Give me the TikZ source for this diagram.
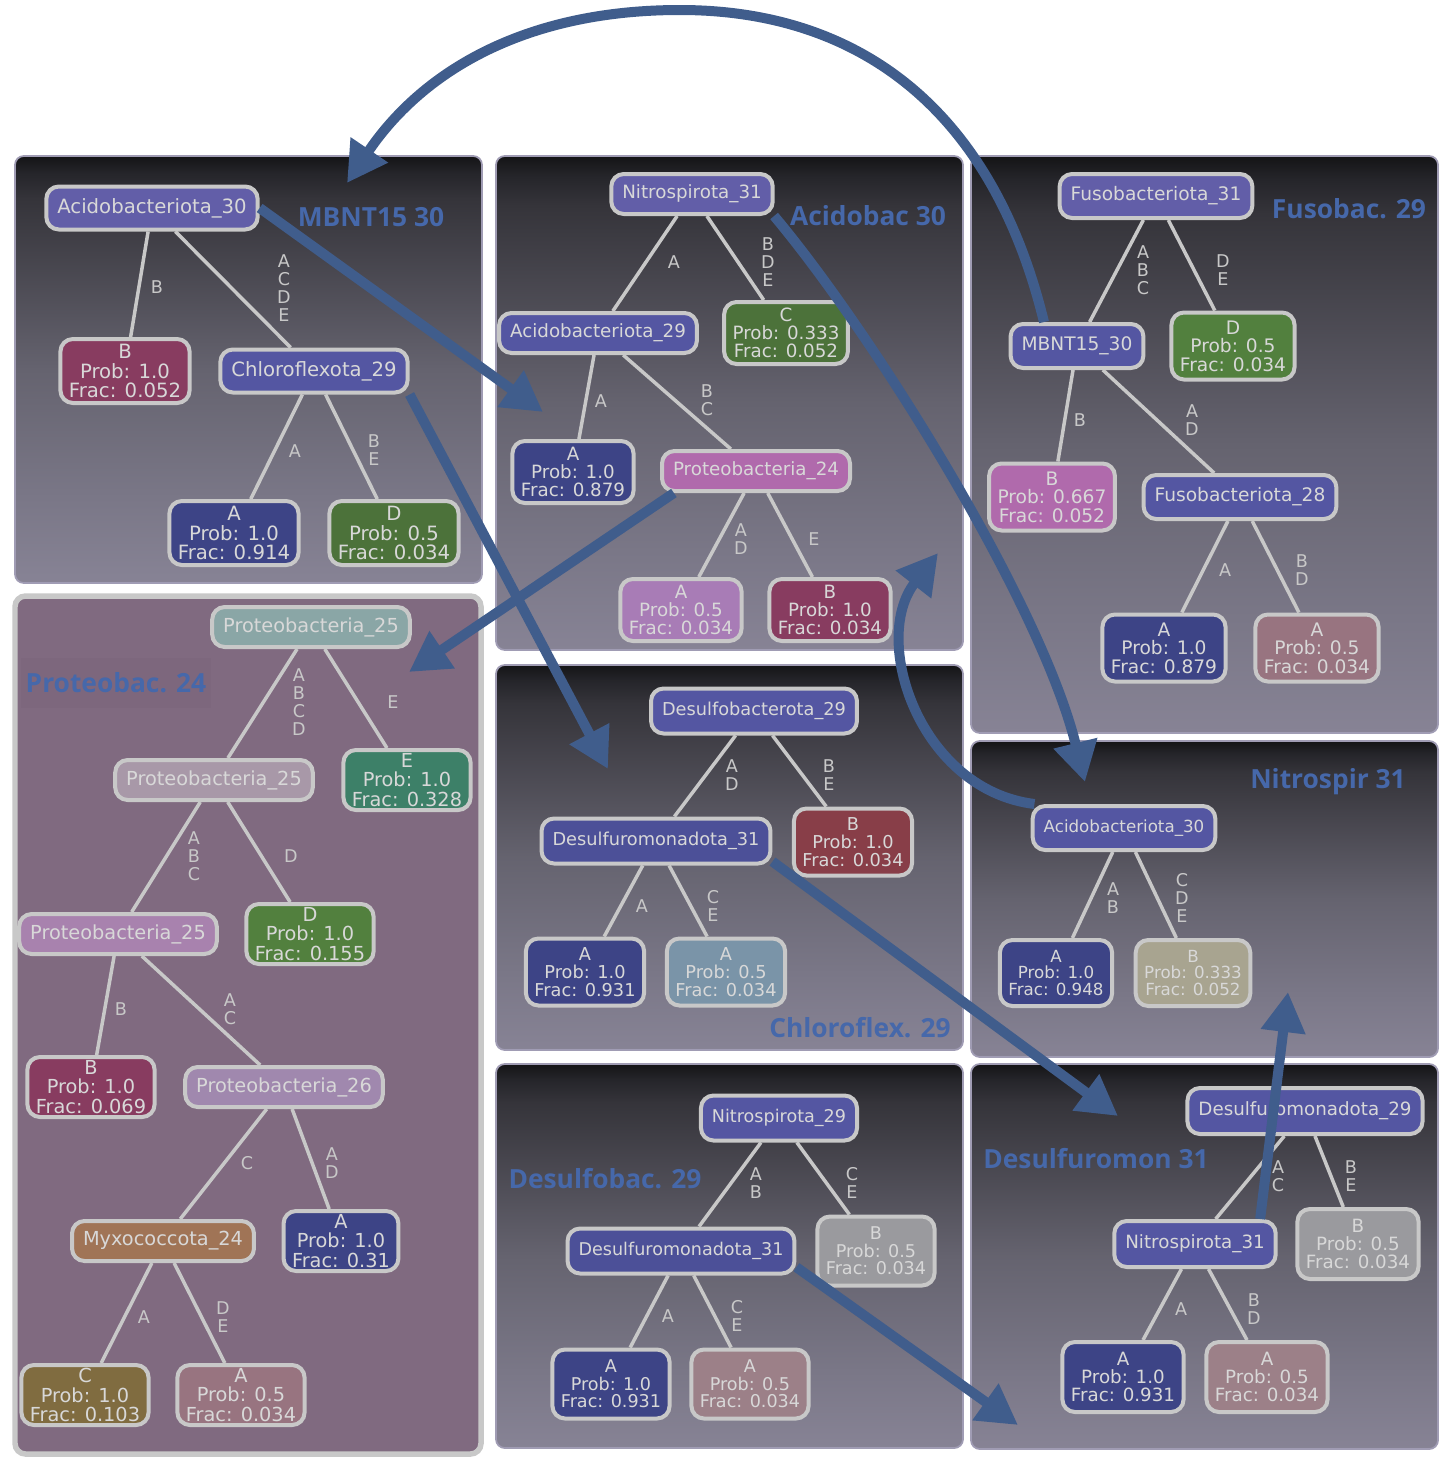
\documentclass[tikz,border=0pt]{standalone}
\usepackage{fontspec}
\setsansfont{DejaVu Sans}
\newfontfamily\titlefont{Open Sans}
\usetikzlibrary{arrows.meta, positioning}

\definecolor{rimgray}{RGB}{200,200,200}
\definecolor{inktext}{RGB}{216,216,216}
\definecolor{panelrim}{RGB}{160,156,180}
\definecolor{paneltop}{RGB}{20,20,22}
\definecolor{panelhigh}{RGB}{37,37,42}
\definecolor{panelnear}{RGB}{53,52,58}
\definecolor{panelmid}{RGB}{101,99,111}
\definecolor{panellow}{RGB}{122,119,135}
\definecolor{panelbot}{RGB}{135,131,149}
\definecolor{protbg}{RGB}{128,106,128}
\definecolor{protshade}{RGB}{125,103,125}
\definecolor{flowblue}{RGB}{64,93,140}
\definecolor{titleblue}{RGB}{70,104,170}
% node fills
\definecolor{violet1}{RGB}{98,94,168}
\definecolor{violet2}{RGB}{84,86,162}
\definecolor{violet3}{RGB}{76,80,152}
\definecolor{navy2}{RGB}{61,68,134}
\definecolor{wine}{RGB}{136,60,96}
\definecolor{wine2}{RGB}{136,62,72}
\definecolor{moss}{RGB}{76,114,58}
\definecolor{moss2}{RGB}{82,128,62}
\definecolor{orchid}{RGB}{176,106,172}
\definecolor{lilac}{RGB}{168,124,182}
\definecolor{mauve}{RGB}{152,116,128}
\definecolor{mauve2}{RGB}{156,128,136}
\definecolor{sage}{RGB}{138,166,166}
\definecolor{heather}{RGB}{168,152,168}
\definecolor{plum}{RGB}{168,130,174}
\definecolor{plum2}{RGB}{160,136,174}
\definecolor{clay}{RGB}{160,116,86}
\definecolor{jade}{RGB}{61,128,104}
\definecolor{olive2}{RGB}{128,108,64}
\definecolor{steel}{RGB}{122,148,168}
\definecolor{khaki}{RGB}{168,164,144}
\definecolor{ash}{RGB}{154,154,158}

\pgfdeclareverticalshading{panelfade}{100bp}{color(0bp)=(panelbot); color(25bp)=(panelbot);
  color(35bp)=(panellow); color(50bp)=(panelmid); color(70bp)=(panelnear);
  color(73bp)=(panelhigh); color(75bp)=(paneltop); color(100bp)=(paneltop)}

\tikzset{
    panel/.style={draw=panelrim, line width=1pt, rounded corners=5pt, shade, shading=panelfade}, % dark to light backdrop
    protpanel/.style={draw=rimgray, line width=0.11cm, rounded corners=6pt, fill=protbg},
    taxon/.style={draw=rimgray, line width=0.08cm, rounded corners=0.25cm, text=inktext, inner xsep=0.22cm, inner ysep=0pt},
    leafbox/.style={taxon, align=center, inner xsep=0.17cm}, % leaves carry three lines
    branch/.style={draw=rimgray, line width=0.07cm},
    lab/.style={text=rimgray, font=\sffamily\fontsize{10pt}{10.4pt}\selectfont, align=center, inner sep=0pt},
    paneltitle/.style={text=titleblue, font=\titlefont\bfseries\fontsize{15pt}{15pt}\selectfont, inner sep=0pt},
    flow/.style={draw=flowblue, line width=0.2cm, -{Triangle[length=0.8cm, width=0.85cm]}}, % big blue links
    tree/.style n args={3}{every node/.append style={font=\sffamily\fontsize{#1}{#1}\selectfont},
        taxon/.append style={minimum height=#2}, leafbox/.append style={minimum height=#3}},
}

\begin{document}
\begin{tikzpicture}[x=0.02cm, y=-0.02cm]
    \useasboundingbox (0,0) rectangle (1453,1471);

    % backdrops
    \draw[panel] (15,156) rectangle (482,583);
    \draw[panel] (496,156) rectangle (963,650);
    \draw[panel] (971,156) rectangle (1438,733);
    \draw[protpanel] (15,596) rectangle (481,1454);
    \draw[panel] (496,665) rectangle (963,1050);
    \draw[panel] (971,741) rectangle (1438,1057);
    \draw[panel] (496,1064) rectangle (963,1448);
    \draw[panel] (971,1064) rectangle (1438,1449);

    % MBNT15 30
    \begin{scope}[tree={11.2pt}{0.86cm}{1.28cm}]
        \node[taxon, fill=violet1] (p1root) at (152,208) {Acidobacteriota\_30};
        \node[leafbox, fill=wine] (p1b) at (125,371) {B\\Prob: 1.0\\Frac: 0.052};
        \node[taxon, fill=violet2] (p1chl) at (314,371) {Chloroflexota\_29};
        \node[leafbox, fill=navy2] (p1a) at (234,533) {A\\Prob: 1.0\\Frac: 0.914};
        \node[leafbox, fill=moss] (p1d) at (394,533) {D\\Prob: 0.5\\Frac: 0.034};
        \draw[branch] (p1root) edge (p1b) edge (p1chl) (p1chl) edge (p1a) edge (p1d);
        \node[lab] (l1a) at (157,287) {B};
        \node[lab] (l1b) at (284,288) {A\\C\\D\\E};
        \node[lab] (l1c) at (295,451) {A};
        \node[lab] (l1d) at (374,450) {B\\E};
        \node[paneltitle] (t1) at (371,217) {MBNT15 30};
    \end{scope}

    % Acidobac 30
    \begin{scope}[tree={10.4pt}{0.80cm}{1.24cm}]
        \node[taxon, fill=violet1] (p2root) at (692,194) {Nitrospirota\_31};
        \node[taxon, fill=violet2] (p2aci) at (598,333) {Acidobacteriota\_29};
        \node[leafbox, fill=moss] (p2c) at (786,333) {C\\Prob: 0.333\\Frac: 0.052};
        \node[leafbox, fill=navy2] (p2a) at (573,472) {A\\Prob: 1.0\\Frac: 0.879};
        \node[taxon, fill=orchid] (p2pro) at (756,471) {Proteobacteria\_24};
        \node[leafbox, fill=lilac] (p2a2) at (681,610) {A\\Prob: 0.5\\Frac: 0.034};
        \node[leafbox, fill=wine] (p2b) at (830,610) {B\\Prob: 1.0\\Frac: 0.034};
        \draw[branch] (p2root) edge (p2aci) edge (p2c) (p2aci) edge (p2a) edge (p2pro)
            (p2pro) edge (p2a2) edge (p2b);
        \node[lab] (l2a) at (674,262) {A};
        \node[lab] (l2b) at (768,262) {B\\D\\E};
        \node[lab] (l2c) at (601,401) {A};
        \node[lab] (l2d) at (707,400) {B\\C};
        \node[lab] (l2e) at (741,539) {A\\D};
        \node[lab] (l2f) at (814,539) {E};
        \node[paneltitle] (t2) at (868,216) {Acidobac 30};
    \end{scope}

    % Fusobac. 29
    \begin{scope}[tree={10.6pt}{0.88cm}{1.34cm}]
        \node[taxon, fill=violet1] (p3root) at (1156,196) {Fusobacteriota\_31};
        \node[taxon, fill=violet2] (p3mid) at (1077,346) {MBNT15\_30};
        \node[leafbox, fill=moss2] (p3d) at (1233,346) {D\\Prob: 0.5\\Frac: 0.034};
        \node[leafbox, fill=orchid] (p3b) at (1052,497) {B\\Prob: 0.667\\Frac: 0.052};
        \node[taxon, fill=violet2] (p3fus) at (1240,497) {Fusobacteriota\_28};
        \node[leafbox, fill=navy2] (p3a) at (1164,648) {A\\Prob: 1.0\\Frac: 0.879};
        \node[leafbox, fill=mauve] (p3a2) at (1317,648) {A\\Prob: 0.5\\Frac: 0.034};
        \draw[branch] (p3root) edge (p3mid) edge (p3d) (p3mid) edge (p3b) edge (p3fus)
            (p3fus) edge (p3a) edge (p3a2);
        \node[lab] (l3a) at (1143,270) {A\\B\\C};
        \node[lab] (l3b) at (1223,270) {D\\E};
        \node[lab] (l3c) at (1080,420) {B};
        \node[lab] (l3d) at (1192,420) {A\\D};
        \node[lab] (l3e) at (1225,570) {A};
        \node[lab] (l3f) at (1302,570) {B\\D};
        \node[paneltitle] (t3) at (1349,209) {Fusobac. 29};
    \end{scope}

    % Proteobac. 24
    \begin{scope}[tree={11pt}{0.80cm}{1.20cm}]
        \node[paneltitle, fill=protshade, minimum width=3.82cm, minimum height=1cm] (t4) at (116,683) {Proteobac. 24};
        \node[taxon, fill=sage] (p4root) at (311,627) {Proteobacteria\_25};
        \node[taxon, fill=heather] (p4mid) at (214,780) {Proteobacteria\_25};
        \node[leafbox, fill=jade] (p4e) at (407,780) {E\\Prob: 1.0\\Frac: 0.328};
        \node[taxon, fill=plum] (p4low) at (118,934) {Proteobacteria\_25};
        \node[leafbox, fill=moss2] (p4d) at (310,934) {D\\Prob: 1.0\\Frac: 0.155};
        \node[leafbox, fill=wine] (p4b) at (91,1087) {B\\Prob: 1.0\\Frac: 0.069};
        \node[taxon, fill=plum2] (p4p26) at (284,1087) {Proteobacteria\_26};
        \node[taxon, fill=clay] (p4myx) at (163,1241) {Myxococcota\_24};
        \node[leafbox, fill=navy2] (p4a) at (341,1241) {A\\Prob: 1.0\\Frac: 0.31};
        \node[leafbox, fill=olive2] (p4c) at (85,1395) {C\\Prob: 1.0\\Frac: 0.103};
        \node[leafbox, fill=mauve] (p4a2) at (241,1395) {A\\Prob: 0.5\\Frac: 0.034};
        \draw[branch] (p4root) edge (p4mid) edge (p4e) (p4mid) edge (p4low) edge (p4d)
            (p4low) edge (p4b) edge (p4p26) (p4p26) edge (p4myx) edge (p4a)
            (p4myx) edge (p4c) edge (p4a2);
        \node[lab] (l4a) at (299,702) {A\\B\\C\\D};
        \node[lab] (l4b) at (393,702) {E};
        \node[lab] (l4c) at (194,856) {A\\B\\C};
        \node[lab] (l4d) at (291,856) {D};
        \node[lab] (l4e) at (121,1009) {B};
        \node[lab] (l4f) at (230,1009) {A\\C};
        \node[lab] (l4g) at (247,1163) {C};
        \node[lab] (l4h) at (332,1163) {A\\D};
        \node[lab] (l4i) at (144,1317) {A};
        \node[lab] (l4j) at (223,1317) {D\\E};
    \end{scope}

    % Chloroflex. 29
    \begin{scope}[tree={10.1pt}{0.90cm}{1.34cm}]
        \node[taxon, fill=violet2] (p5root) at (754,711) {Desulfobacterota\_29};
        \node[taxon, fill=violet3] (p5mid) at (656,841) {Desulfuromonadota\_31};
        \node[leafbox, fill=wine2] (p5b) at (853,842) {B\\Prob: 1.0\\Frac: 0.034};
        \node[leafbox, fill=navy2] (p5a) at (585,972) {A\\Prob: 1.0\\Frac: 0.931};
        \node[leafbox, fill=steel] (p5a2) at (726,972) {A\\Prob: 0.5\\Frac: 0.034};
        \draw[branch] (p5root) edge (p5mid) edge (p5b) (p5mid) edge (p5a) edge (p5a2);
        \node[lab] (l5a) at (732,775) {A\\D};
        \node[lab] (l5b) at (829,775) {B\\E};
        \node[lab] (l5c) at (642,906) {A};
        \node[lab] (l5d) at (713,906) {C\\E};
        \node[paneltitle] (t5) at (860,1028) {Chloroflex. 29};
    \end{scope}

    % Nitrospir 31
    \begin{scope}[tree={9.5pt}{0.88cm}{1.32cm}]
        \node[taxon, fill=violet2] (p6root) at (1124,828) {Acidobacteriota\_30};
        \node[leafbox, fill=navy2] (p6a) at (1056,973) {A\\Prob: 1.0\\Frac: 0.948};
        \node[leafbox, fill=khaki] (p6b) at (1193,973) {B\\Prob: 0.333\\Frac: 0.052};
        \draw[branch] (p6root) edge (p6a) edge (p6b);
        \node[lab] (l6a) at (1113,898) {A\\B};
        \node[lab] (l6b) at (1182,898) {C\\D\\E};
        \node[paneltitle] (t6) at (1328,782) {Nitrospir 31};
    \end{scope}

    % Desulfobac. 29
    \begin{scope}[tree={10pt}{0.90cm}{1.38cm}]
        \node[taxon, fill=violet2] (p7root) at (779,1118) {Nitrospirota\_29};
        \node[taxon, fill=violet3] (p7mid) at (681,1251) {Desulfuromonadota\_31};
        \node[leafbox, fill=ash] (p7b) at (876,1251) {B\\Prob: 0.5\\Frac: 0.034};
        \node[leafbox, fill=navy2] (p7a) at (611,1384) {A\\Prob: 1.0\\Frac: 0.931};
        \node[leafbox, fill=mauve2] (p7a2) at (750,1384) {A\\Prob: 0.5\\Frac: 0.034};
        \draw[branch] (p7root) edge (p7mid) edge (p7b) (p7mid) edge (p7a) edge (p7a2);
        \node[lab] (l7a) at (756,1183) {A\\B};
        \node[lab] (l7b) at (852,1183) {C\\E};
        \node[lab] (l7c) at (668,1316) {A};
        \node[lab] (l7d) at (737,1316) {C\\E};
        \node[paneltitle] (t7) at (605,1179) {Desulfobac. 29};
    \end{scope}

    % Desulfuromon 31
    \begin{scope}[tree={10.4pt}{0.92cm}{1.40cm}]
        \node[taxon, fill=violet2] (p8root) at (1305,1111) {Desulfuromonadota\_29};
        \node[taxon, fill=violet2] (p8mid) at (1195,1244) {Nitrospirota\_31};
        \node[leafbox, fill=ash] (p8b) at (1358,1244) {B\\Prob: 0.5\\Frac: 0.034};
        \node[leafbox, fill=navy2] (p8a) at (1123,1377) {A\\Prob: 1.0\\Frac: 0.931};
        \node[leafbox, fill=mauve2] (p8a2) at (1267,1377) {A\\Prob: 0.5\\Frac: 0.034};
        \draw[branch] (p8root) edge (p8mid) edge (p8b) (p8mid) edge (p8a) edge (p8a2);
        \node[lab] (l8a) at (1278,1176) {A\\C};
        \node[lab] (l8b) at (1351,1176) {B\\E};
        \node[lab] (l8c) at (1181,1309) {A};
        \node[lab] (l8d) at (1254,1309) {B\\D};
        \node[paneltitle] (t8) at (1096,1159) {Desulfuromon 31};
    \end{scope}

    % links between panels
    \coordinate (tip1) at (347,183);
    \coordinate (tip2) at (543,412);
    \coordinate (tip3) at (608,769);
    \coordinate (tip4) at (409,672);
    \coordinate (tip5) at (1085,782);
    \coordinate (tip6) at (938,553);
    \coordinate (tip7) at (1118,1116);
    \coordinate (tip8) at (1288,992);
    \coordinate (tip9) at (1018,1425);
    \draw[flow] (p3mid.144) .. controls (990,100) and (850,10) .. (680,10)
        .. controls (520,10) and (420,75) .. (tip1);
    \draw[flow] (p1root.east) -- (tip2);
    \draw[flow] (p1chl.south east) -- (tip3);
    \draw[flow] (p2pro.-165) -- (tip4);
    \draw[flow] (p2root.-15) .. controls (870,330) and (1040,600) .. (tip5);
    \draw[flow] (p6root.165) .. controls (920,790) and (870,640) .. (tip6);
    \draw[flow] (p5mid.-10) -- (tip7);
    \draw[flow] (p8mid.21) -- (tip8);
    \draw[flow] (p7mid.-8) -- (tip9);
\end{tikzpicture}
\end{document}
